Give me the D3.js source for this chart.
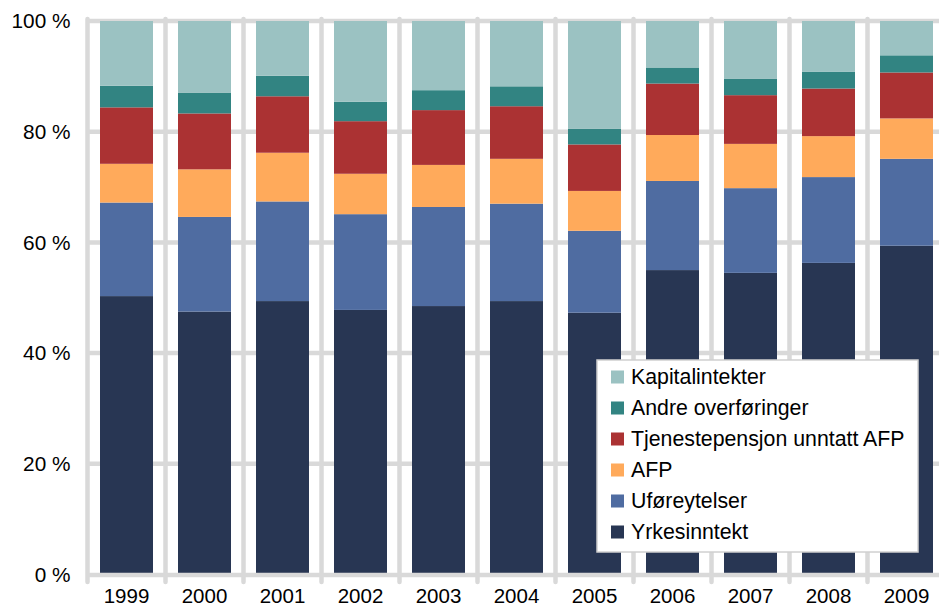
<!DOCTYPE html>
<html>
<head>
<meta charset="utf-8">
<script src="https://cdn.jsdelivr.net/npm/d3@7"></script>
<style>
  body { margin: 0; background: #fff; }
  svg { display: block; font-family: "Liberation Sans", Arial, sans-serif; }
</style>
</head>
<body>
<div id="chart"></div>
<script>
// Income composition per year (share in %)
const years = ["1999", "2000", "2001", "2002", "2003", "2004", "2005", "2006", "2007", "2008", "2009"];
const yrkesinntekt = [50.3, 47.5, 49.4, 47.8, 48.5, 49.4, 47.3, 55.0, 54.5, 56.3, 59.4];
const uforeytelser = [16.9, 17.1, 18.0, 17.3, 17.9, 17.6, 14.8, 16.1, 15.3, 15.5, 15.7];
const afp = [7.0, 8.6, 8.8, 7.3, 7.6, 8.1, 7.2, 8.3, 8.0, 7.4, 7.3];
const tjenestepensjon = [10.2, 10.1, 10.2, 9.5, 9.9, 9.5, 8.4, 9.3, 8.8, 8.6, 8.3];
const andreOverforinger = [3.9, 3.7, 3.7, 3.5, 3.6, 3.6, 2.8, 2.9, 3.0, 3.0, 3.1];
const kapitalinntekter = [11.7, 13.0, 9.9, 14.6, 12.5, 11.8, 19.5, 8.4, 10.4, 9.2, 6.2];

const seriesNames = ["Yrkesinntekt", "Uføreytelser", "AFP", "Tjenestepensjon unntatt AFP", "Andre overføringer", "Kapitalintekter"];
const seriesValues = [yrkesinntekt, uforeytelser, afp, tjenestepensjon, andreOverforinger, kapitalinntekter];
const seriesColors = ["#283653", "#4f6ca1", "#ffaa5b", "#ab3233", "#328482", "#9bc2c2"];
const yTicks = [0, 20, 40, 60, 80, 100];

// Build rows for d3.stack
const data = years.map((yr, i) => {
    const row = {year: yr};
    seriesNames.forEach((s, k) => row[s] = seriesValues[k][i]);
    return row;
});

const W = 939, H = 607;
const grid = "#d9d9d9";

const svg = d3.select("#chart")
    .append("svg")
        .attr("width", W)
        .attr("height", H);

// Scales
const x = d3.scaleBand()
    .domain(years)
    .range([87.5, 87.5 + 78 * years.length])
    .paddingInner(25 / 78)
    .paddingOuter(12.5 / 78);

const y = d3.scaleLinear()
    .domain([0, 100])
    .range([574.5, 21]);

const color = d3.scaleOrdinal()
    .domain(seriesNames)
    .range(seriesColors);

// category boundaries (vertical gridlines + ticks)
const bound = d => x(d) - x.step() * x.paddingOuter();
const bounds = years.map(bound).concat([bound(years[years.length - 1]) + x.step()]);

// Horizontal gridlines
svg.append("g")
    .selectAll("line")
    .data(yTicks.filter(t => t > 0))
    .join("line")
        .attr("x1", 86)
        .attr("x2", bounds[bounds.length - 1])
        .attr("y1", d => y(d))
        .attr("y2", d => y(d))
        .attr("stroke", grid)
        .attr("stroke-width", 4.5);

// Vertical gridlines, extending below as tick marks
svg.append("g")
    .selectAll("line")
    .data(bounds)
    .join("line")
        .attr("x1", d => d)
        .attr("x2", d => d)
        .attr("y1", y(100) - 2)
        .attr("y2", 582)
        .attr("stroke", grid)
        .attr("stroke-width", 4.5)
        .attr("stroke-linecap", "round");

// Stacked bars
const stackedData = d3.stack().keys(seriesNames)(data);

svg.append("g")
    .selectAll("g")
    .data(stackedData)
    .join("g")
        .attr("fill", d => color(d.key))
        .selectAll("rect")
        .data(d => d)
        .join("rect")
            .attr("x", d => x(d.data.year))
            .attr("y", d => y(d[1]))
            .attr("width", x.bandwidth())
            .attr("height", d => y(d[0]) - y(d[1]));

// X axis line
svg.append("line")
    .attr("x1", 86)
    .attr("x2", bounds[bounds.length - 1])
    .attr("y1", y(0) + 0.5)
    .attr("y2", y(0) + 0.5)
    .attr("stroke", grid)
    .attr("stroke-width", 4.5);

// Y tick labels
svg.append("g")
    .selectAll("text")
    .data(yTicks)
    .join("text")
        .attr("x", 70.5)
        .attr("y", d => y(d))
        .attr("dy", "0.35em")
        .attr("text-anchor", "end")
        .style("font-size", "20.8px")
        .text(d => d + " %");

// X tick labels
svg.append("g")
    .selectAll("text")
    .data(years)
    .join("text")
        .attr("x", d => x(d) + x.bandwidth() / 2)
        .attr("y", 602.5)
        .attr("text-anchor", "middle")
        .style("font-size", "20.5px")
        .text(d => d);

// Legend (reversed order, top = Kapitalintekter)
const legend = svg.append("g");
legend.append("rect")
    .attr("x", 597)
    .attr("y", 360)
    .attr("width", 321)
    .attr("height", 192)
    .attr("fill", "#fff")
    .attr("stroke", "#d0d0d0")
    .attr("stroke-width", 1.5);

const items = seriesNames.slice().reverse();
const ly = d3.scalePoint()
    .domain(items)
    .range([377, 532]);

const li = legend.selectAll("g.item")
    .data(items)
    .join("g")
        .attr("class", "item")
        .attr("transform", d => `translate(0, ${ly(d)})`);

li.append("rect")
    .attr("x", 611)
    .attr("y", -6.5)
    .attr("width", 13)
    .attr("height", 13)
    .attr("fill", d => color(d));

li.append("text")
    .attr("x", 631)
    .attr("dy", "0.35em")
    .style("font-size", "21.3px")
    .text(d => d);
</script>
</body>
</html>
